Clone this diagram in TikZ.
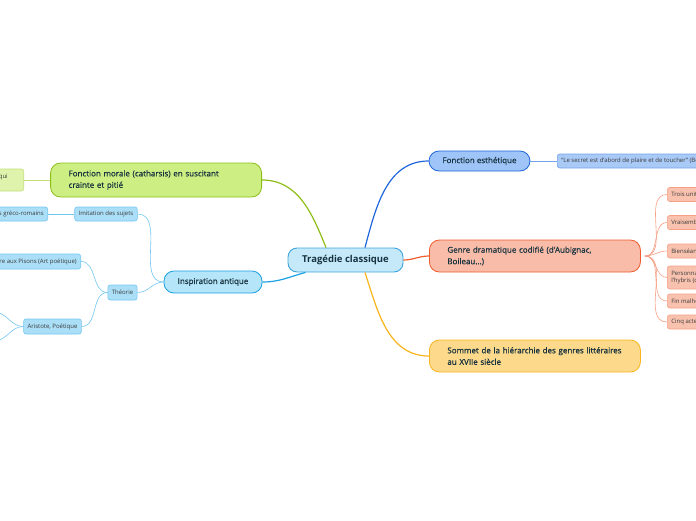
\documentclass[tikz,border=0pt]{standalone}
\usepackage{fontspec}
\setmainfont{Open Sans}
\newfontfamily\semibold[FakeBold=0.6]{Open Sans}
\usetikzlibrary{positioning}

\definecolor{ink}{HTML}{17323F}
\definecolor{leafink}{HTML}{3A3A3A}
\definecolor{rootfill}{HTML}{C6E9FA}
\definecolor{rootline}{HTML}{3EA3DD}
\definecolor{esthfill}{HTML}{9FC5F8}
\definecolor{esthline}{HTML}{1F66DA}
\definecolor{quotefill}{HTML}{A9C9F6}
\definecolor{quoteline}{HTML}{75A3EA}
\definecolor{genrefill}{HTML}{F8BCA8}
\definecolor{genreline}{HTML}{EF5B2A}
\definecolor{unitfill}{HTML}{F9C2AF}
\definecolor{unitline}{HTML}{F6A086}
\definecolor{sommetfill}{HTML}{FDDA8B}
\definecolor{sommetline}{HTML}{F8B41C}
\definecolor{moralefill}{HTML}{CDEE82}
\definecolor{moraleline}{HTML}{8DBE18}
\definecolor{catfill}{HTML}{DFF3AD}
\definecolor{catline}{HTML}{C3DF78}
\definecolor{inspfill}{HTML}{B5E5F9}
\definecolor{inspline}{HTML}{1BA0E3}
\definecolor{antfill}{HTML}{ABDFF8}
\definecolor{antline}{HTML}{73C6EF}

\begin{document}
\begin{tikzpicture}[x=1pt, y=-1pt,
root/.style={rectangle, rounded corners=9pt, draw=rootline, fill=rootfill, line width=0.9pt, minimum width=115pt, minimum height=24pt, font=\bfseries\fontsize{9.5}{11}\selectfont, text=ink},
topic/.style={rectangle, rounded corners=10pt, line width=0.8pt, font=\semibold\fontsize{8}{11.5}\selectfont, text=ink, align=left},
widetopic/.style={topic, text width=175pt, inner xsep=18pt},
leaf/.style={rectangle, rounded corners=2.5pt, line width=0.6pt, minimum height=14pt, inner xsep=4pt, inner ysep=1pt, font=\fontsize{6}{7}\selectfont, text=leafink, align=left},
branch/.style={line width=1.2pt},
twig/.style={line width=0.6pt}
]
\useasboundingbox (0,0) rectangle (696,520);
\clip (0,0) rectangle (696,520);

% centre
\node[root] (trag) at (345.5,260) {Tragédie classique};

% branches principales
\node[topic, draw=esthline, fill=esthfill, minimum width=101pt, minimum height=20pt] (esth) at (479.5,161) {Fonction esthétique};
\node[widetopic, draw=genreline, fill=genrefill, anchor=west, minimum height=32pt] (genre) at (429,256) {Genre dramatique codifié (d'Aubignac,\\Boileau...)};
\node[widetopic, draw=sommetline, fill=sommetfill, anchor=west, minimum height=32pt] (sommet) at (429,356) {Sommet de la hiérarchie des genres littéraires\\au XVIIe siècle};
\node[widetopic, draw=moraleline, fill=moralefill, anchor=east, minimum height=34pt] (morale) at (262,180) {Fonction morale (catharsis) en suscitant\\crainte et pitié};
\node[topic, draw=inspline, fill=inspfill, minimum width=98pt, minimum height=22pt] (insp) at (213,282) {Inspiration antique};

% feuilles
\node[leaf, draw=quoteline, fill=quotefill, anchor=west] (quote) at (557,161) {“Le secret est d’abord de plaire et de toucher” (Boileau)};

\node[leaf, draw=unitline, fill=unitfill, anchor=west] (unites) at (667,194.5) {Trois unités};
\node[leaf, draw=unitline, fill=unitfill, anchor=west] (vrai) at (667,222.5) {Vraisemblance};
\node[leaf, draw=unitline, fill=unitfill, anchor=west] (bien) at (667,251) {Bienséances};
\node[leaf, draw=unitline, fill=unitfill, anchor=west, minimum height=23pt] (perso) at (667,277.5) {Personnages nobles victimes de\\l'hybris (démesure)};
\node[leaf, draw=unitline, fill=unitfill, anchor=west] (fin) at (667,301) {Fin malheureuse};
\node[leaf, draw=unitline, fill=unitfill, anchor=west] (actes) at (667,322) {Cinq actes en vers};

\node[leaf, draw=catline, fill=catfill, anchor=east, minimum height=22pt] (purge) at (24,180) {Purger le spectateur des passions qui\hspace*{12pt}\\le menent au malheur};

\node[leaf, draw=antline, fill=antfill, minimum width=62pt] (imit) at (106,214) {Imitation des sujets};
\node[leaf, draw=antline, fill=antfill, anchor=east] (greco) at (48,214) {Mythes et héros gréco-romains};
\node[leaf, draw=antline, fill=antfill, minimum width=29pt, minimum height=15pt] (theo) at (122.5,292.5) {Théorie};
\node[leaf, draw=antline, fill=antfill, anchor=east, minimum height=15pt] (horace) at (81,261.5) {Horace, Épître aux Pisons (Art poétique)};
\node[leaf, draw=antline, fill=antfill, minimum width=57pt, minimum height=15pt] (arist) at (52.5,326.5) {Aristote, Poétique};
\coordinate (aristA) at (-6,312);
\coordinate (aristB) at (-6,341);

% liens
\draw[branch, draw=esthline] ([xshift=19.5pt]trag.north) to[out=75,in=180] (esth.west);
\draw[branch, draw=moraleline] ([xshift=-19.5pt]trag.north) to[out=112,in=0] (morale.east);
\draw[branch, draw=genreline] (trag.east) to[out=0,in=180] (genre.west);
\draw[branch, draw=sommetline] ([xshift=19.5pt]trag.south) to[out=-72,in=180] (sommet.west);
\draw[branch, draw=inspline] ([xshift=-40pt]trag.south) to[out=-165,in=0] (insp.east);

\draw[twig, draw=quoteline] (esth.east) -- (quote.west);
\foreach \n in {unites,vrai,bien,perso,fin,actes}
  \draw[twig, draw=unitline] ([xshift=4pt]genre.east) to[out=0,in=180] (\n.west);
\draw[twig, draw=catline] (morale.west) -- (purge.east);
\draw[twig, draw=antline] (insp.west) to[out=180,in=0] (imit.east);
\draw[twig, draw=antline] (insp.west) to[out=180,in=0] (theo.east);
\draw[twig, draw=antline] (imit.west) -- (greco.east);
\draw[twig, draw=antline] (theo.west) to[out=180,in=0] (horace.east);
\draw[twig, draw=antline] (theo.west) to[out=180,in=0] (arist.east);
\draw[twig, draw=antline] (arist.west) to[out=180,in=0] (aristA);
\draw[twig, draw=antline] (arist.west) to[out=180,in=0] (aristB);
\end{tikzpicture}
\end{document}
